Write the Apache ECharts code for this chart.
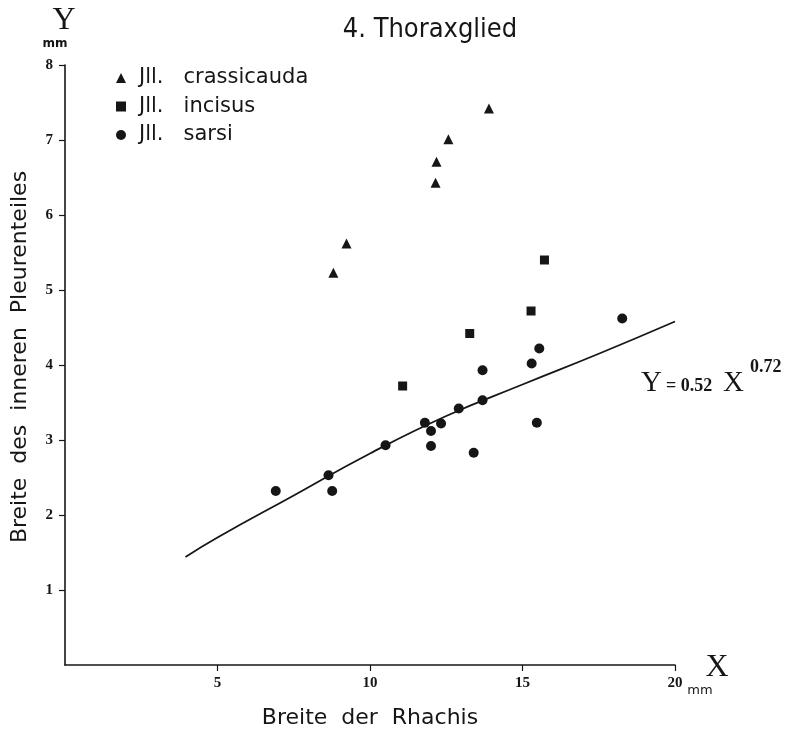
<!DOCTYPE html>
<html>
<head>
<meta charset="utf-8">
<script src="https://cdn.jsdelivr.net/npm/echarts@6/dist/echarts.min.js"></script>
<style>
html,body{margin:0;padding:0;background:#fff;}
#c{width:789px;height:734px;}
</style>
</head>
<body>
<div id="c"></div>
<script>
var titleText = '4. Thoraxglied';
var xTicks = [5, 10, 15, 20];
var yTicks = [1, 2, 3, 4, 5, 6, 7, 8];
var seriesNames = ['Jll.   crassicauda', 'Jll.   incisus', 'Jll.   sarsi'];
var crassicauda = [[8.80, 5.23], [9.23, 5.62], [12.15, 6.43], [12.18, 6.71], [12.57, 7.01], [13.90, 7.42]];
var incisus = [[11.07, 3.72], [13.27, 4.42], [15.28, 4.72], [15.72, 5.40]];
var sarsi = [[6.91, 2.32], [8.76, 2.32], [8.64, 2.53], [10.51, 2.93], [11.80, 3.23], [12.00, 3.12],
  [12.00, 2.92], [12.33, 3.22], [12.91, 3.42], [13.40, 2.83], [13.69, 3.53], [13.69, 3.93],
  [15.30, 4.02], [15.55, 4.22], [15.47, 3.23], [18.27, 4.62]];
var fitLine = [[3.95, 1.44], [5, 1.70], [7.5, 2.26], [10, 2.82], [12.5, 3.32], [15, 3.74], [17.5, 4.15], [20, 4.58]];
var xName = 'Breite  der  Rhachis';
var yName = 'Breite  des  inneren  Pleurenteiles';

var ink = '#161616';
var sans = '"DejaVu Sans", sans-serif';
var sansC = '"DejaVu Sans Condensed", "DejaVu Sans", sans-serif';
var serif = '"Liberation Serif", "DejaVu Serif", serif';

var chart = echarts.init(document.getElementById('c'));
chart.setOption({
  backgroundColor: '#fff',
  animation: false,
  title: {
    text: titleText,
    left: 425, top: 11, textAlign: 'center',
    textStyle: {fontFamily: sansC, fontWeight: 'normal', fontSize: 27, color: ink}
  },
  legend: {
    orient: 'vertical', left: 111, top: 62,
    itemWidth: 10, itemHeight: 10, itemGap: 6.5,
    data: [
      {name: seriesNames[0], icon: 'triangle'},
      {name: seriesNames[1], icon: 'rect'},
      {name: seriesNames[2], icon: 'circle'}
    ],
    textStyle: {fontFamily: sans, fontSize: 21, color: ink, lineHeight: 22, padding: [0, 0, 0, 8]}
  },
  grid: {left: 65, right: 114, top: 65, bottom: 64, containLabel: false},
  xAxis: {
    type: 'value', min: 0, max: 20, interval: 5,
    name: xName, nameLocation: 'middle', nameGap: 42,
    nameTextStyle: {fontFamily: sans, fontSize: 22, color: ink},
    axisLine: {lineStyle: {color: ink, width: 1.6}},
    axisTick: {show: true, length: 6, lineStyle: {color: ink, width: 1.2}, customValues: xTicks},
    axisLabel: {customValues: xTicks, margin: 11, fontFamily: serif, fontWeight: 'bold', fontSize: 15, color: ink},
    splitLine: {show: false}
  },
  yAxis: {
    type: 'value', min: 0, max: 8, interval: 1,
    axisLine: {show: true, lineStyle: {color: ink, width: 1.6}},
    axisTick: {show: true, length: 6, lineStyle: {color: ink, width: 1.2}, customValues: yTicks},
    axisLabel: {customValues: yTicks, margin: 12, fontFamily: serif, fontWeight: 'bold', fontSize: 15, color: ink},
    splitLine: {show: false}
  },
  graphic: [
    {type: 'text', x: 64, y: 21, style: {text: 'Y', font: '32px ' + serif, fill: ink, textAlign: 'center', textVerticalAlign: 'middle'}},
    {type: 'text', x: 55, y: 44, style: {text: 'mm', font: 'bold 12px ' + sans, fill: ink, textAlign: 'center', textVerticalAlign: 'middle'}},
    {type: 'text', x: 717, y: 668, style: {text: 'X', font: '32px ' + serif, fill: ink, textAlign: 'center', textVerticalAlign: 'middle'}},
    {type: 'text', x: 700, y: 691, style: {text: 'mm', font: '13px ' + sans, fill: ink, textAlign: 'center', textVerticalAlign: 'middle'}},
    {type: 'text', x: 20, y: 357, rotation: Math.PI / 2, style: {text: yName, font: '22px ' + sans, fill: ink, textAlign: 'center', textVerticalAlign: 'middle'}},
    {type: 'text', x: 641, y: 383, style: {text: 'Y', font: '29px ' + serif, fill: ink, textAlign: 'left', textVerticalAlign: 'middle'}},
    {type: 'text', x: 666, y: 386, style: {text: '= 0.52', font: 'bold 18px ' + serif, fill: ink, textAlign: 'left', textVerticalAlign: 'middle'}},
    {type: 'text', x: 723, y: 383, style: {text: 'X', font: '29px ' + serif, fill: ink, textAlign: 'left', textVerticalAlign: 'middle'}},
    {type: 'text', x: 750, y: 367, style: {text: '0.72', font: 'bold 18px ' + serif, fill: ink, textAlign: 'left', textVerticalAlign: 'middle'}}
  ],
  series: [
    {name: seriesNames[0], type: 'scatter', symbol: 'triangle', symbolSize: 10, itemStyle: {color: ink, opacity: 1}, data: crassicauda},
    {name: seriesNames[1], type: 'scatter', symbol: 'rect', symbolSize: 9, itemStyle: {color: ink, opacity: 1}, data: incisus},
    {name: seriesNames[2], type: 'scatter', symbol: 'circle', symbolSize: 10, itemStyle: {color: ink, opacity: 1}, data: sarsi},
    {name: 'fit', type: 'line', smooth: true, symbol: 'none', lineStyle: {color: ink, width: 1.8}, data: fitLine, silent: true}
  ]
});
</script>
</body>
</html>
